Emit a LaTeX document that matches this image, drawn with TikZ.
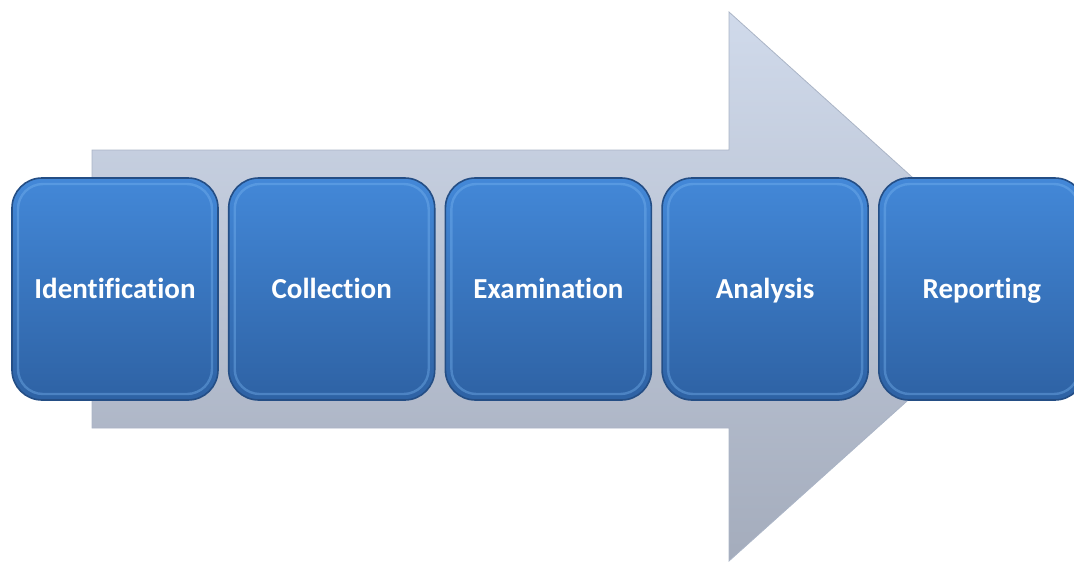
\documentclass[tikz,border=0pt]{standalone}
\usepackage{fontspec}
\setmainfont{Carlito}[Ligatures=NoCommon]
\usetikzlibrary{positioning}
\definecolor{stepTop}{RGB}{67,136,216}
\definecolor{stepBot}{RGB}{46,98,164}
\definecolor{stepEdge}{RGB}{36,78,133}
\definecolor{stepGlow}{RGB}{120,180,240}
\definecolor{flowTop}{RGB}{208,218,235}
\definecolor{flowBot}{RGB}{164,172,188}
\definecolor{flowEdge}{RGB}{170,180,198}
\tikzset{
	x=1pt, y=-1pt
}

\begin{document}
\begin{tikzpicture} [
			stepbox/.style={rectangle, rounded corners=30pt, draw=stepEdge, line width=1.6pt,
				top color=stepTop, bottom color=stepBot, text=white,
				minimum width=206pt, minimum height=222pt, inner sep=0pt, outer sep=0pt,
				text height=24pt, text depth=6pt,
				font=\fontsize{29}{34}\selectfont\bfseries,
				path picture={\draw [stepGlow, line width=2.4pt, opacity=0.4, rounded corners=25pt]
					([shift={(6pt,-6pt)}]path picture bounding box.north west)
					rectangle ([shift={(-6pt,6pt)}]path picture bounding box.south east);}},
			flow/.style={draw=flowEdge, line width=0.8pt, top color=flowTop, bottom color=flowBot}
		]
		\useasboundingbox (0,0) rectangle (1074,563);
		\clip (0,0) rectangle (1074,563);

		% big arrow behind the steps
		\draw [flow] (92,150) -- (729,150) -- (729,12) -- (1034,287)
			-- (729,561) -- (729,428) -- (92,428) -- cycle;

		\node at (115,289) [stepbox] (ident) {Identification};
		\node [stepbox, right=10.7pt of ident] (collect) {Collection};
		\node [stepbox, right=10.7pt of collect] (exam) {Examination};
		\node [stepbox, right=10.7pt of exam] (analysis) {Analysis};
		\node [stepbox, right=10.7pt of analysis] (report) {Reporting};
	\end{tikzpicture}
\end{document}
